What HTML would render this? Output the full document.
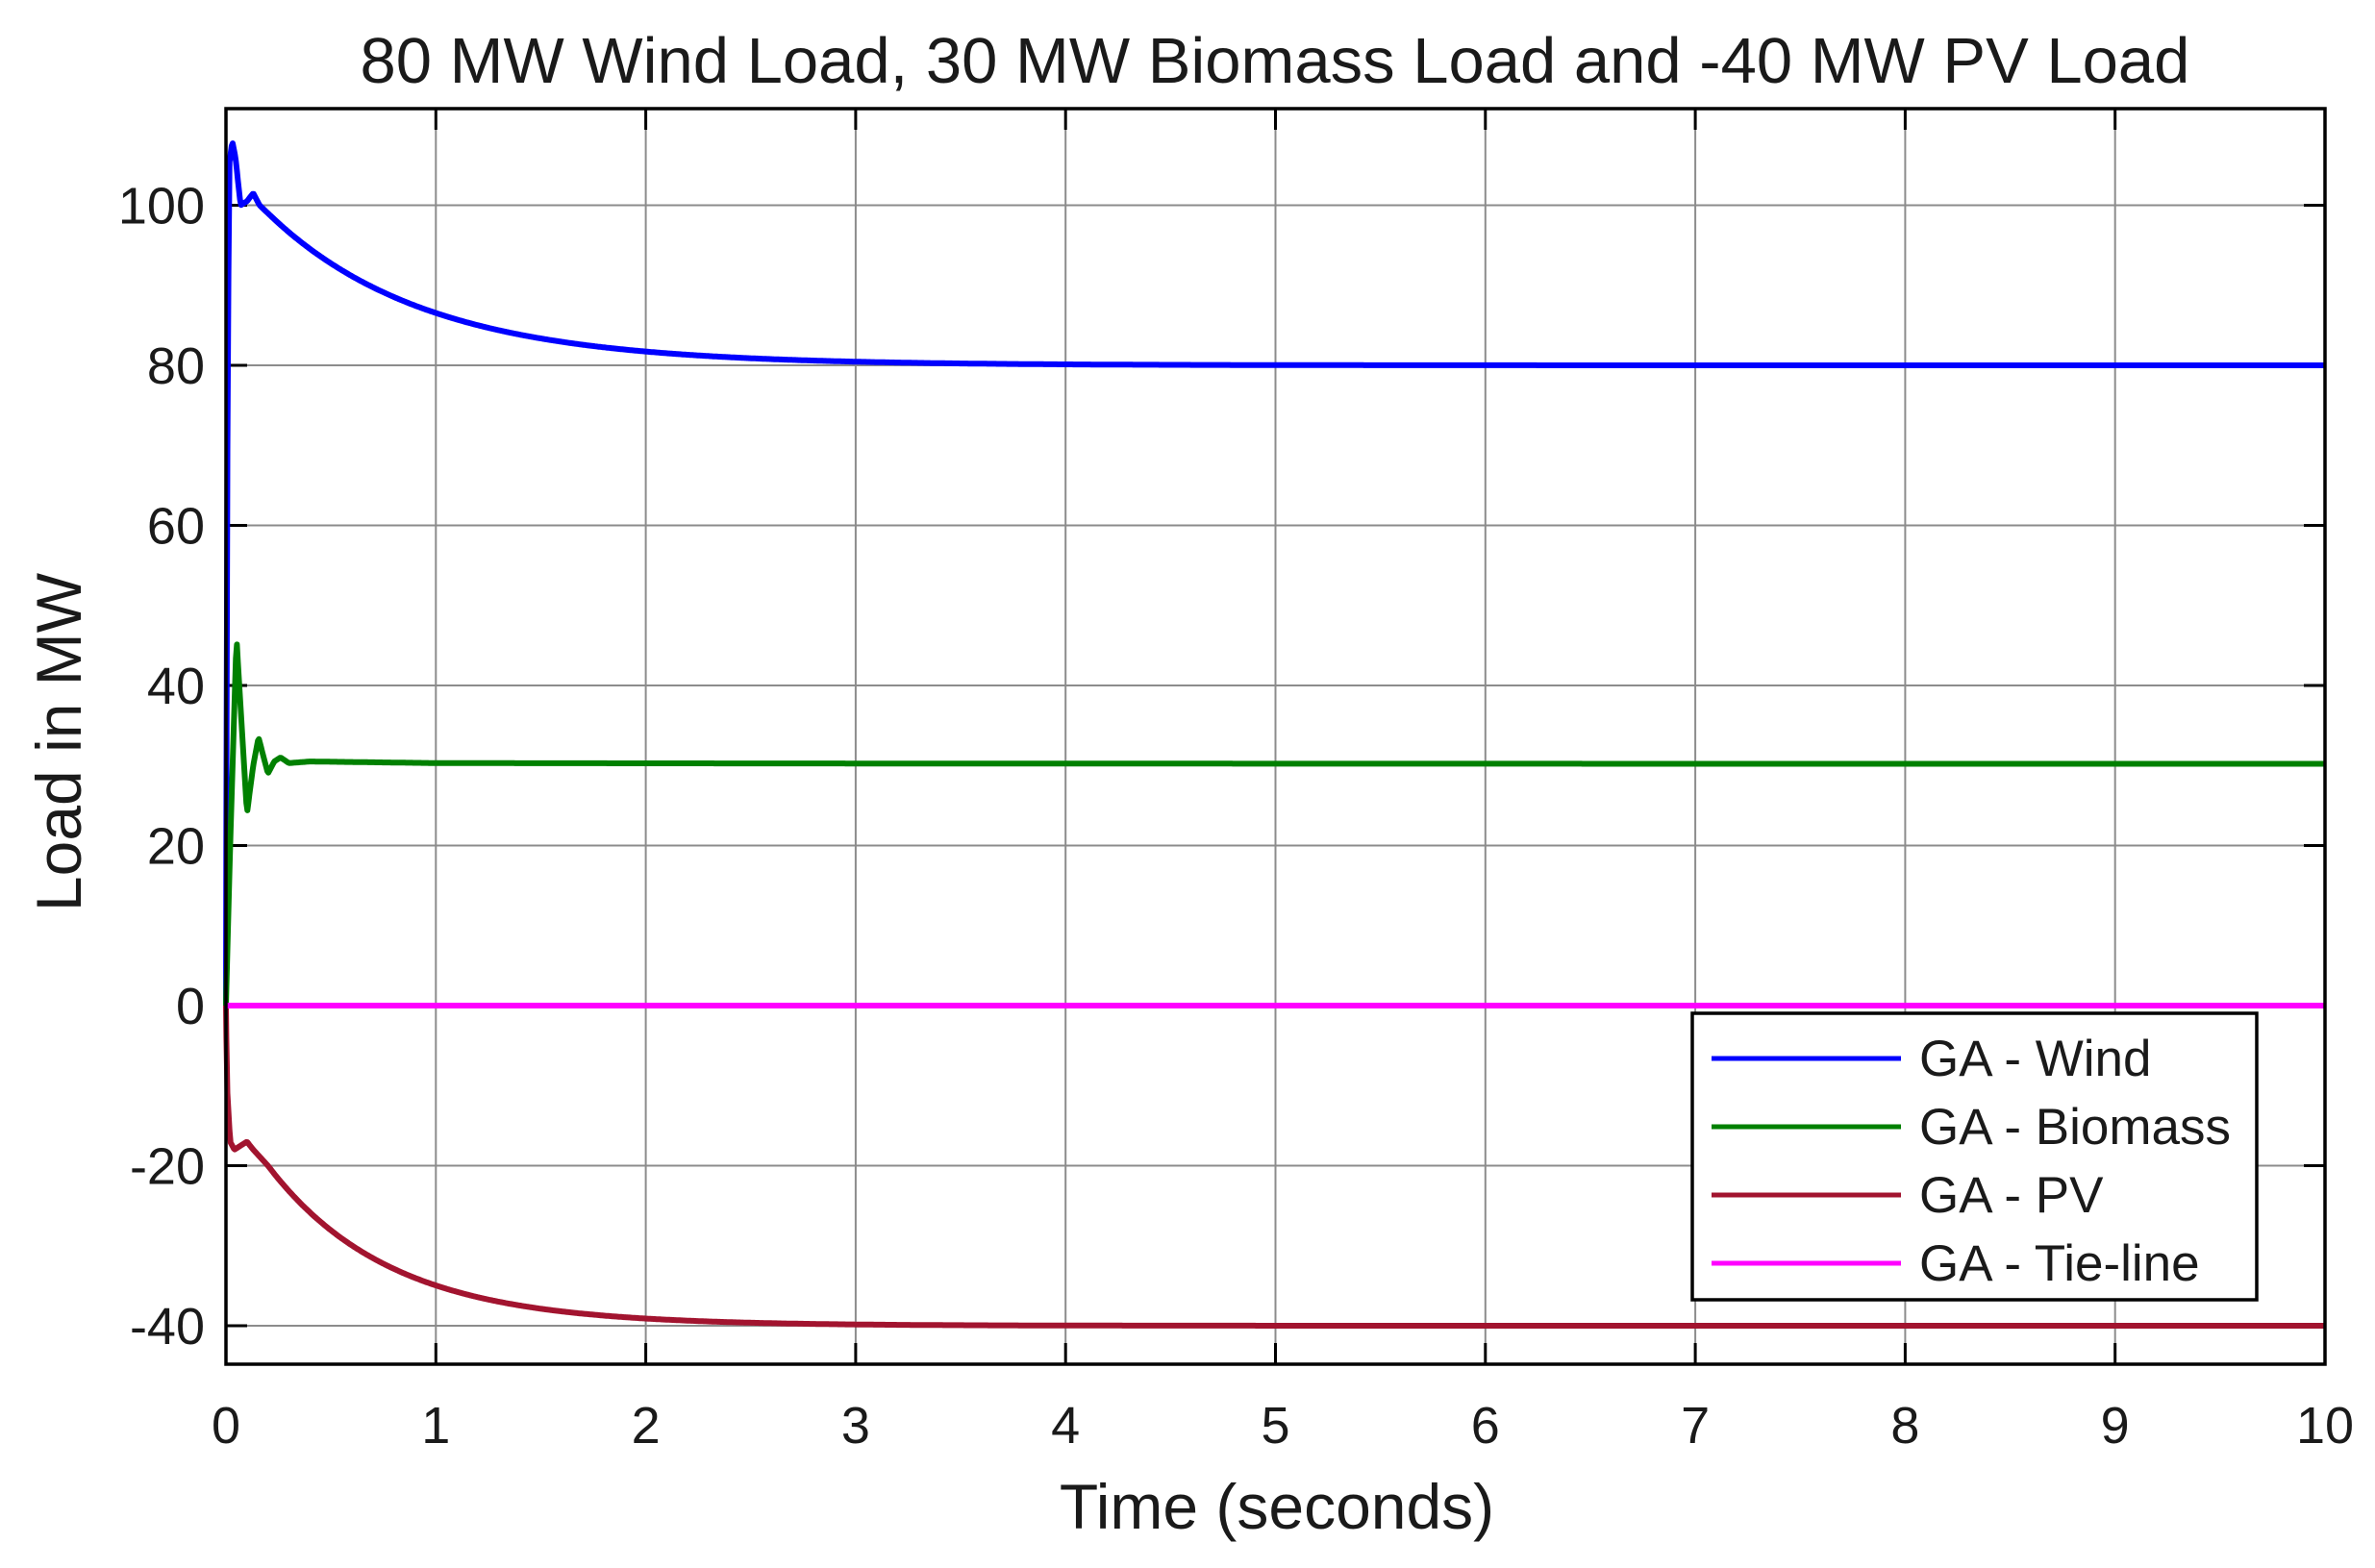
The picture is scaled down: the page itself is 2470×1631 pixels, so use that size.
<!DOCTYPE html>
<html><head><meta charset="utf-8"><style>
html,body{margin:0;padding:0;background:#fff;}
svg{display:block;font-family:"Liberation Sans",Arial,sans-serif;}
</style></head><body>
<svg id="s" width="2470" height="1631" viewBox="0 0 2470 1631" xmlns="http://www.w3.org/2000/svg">
<rect width="2470" height="1631" fill="#fff"/>
<g id="grid" stroke="#8c8c8c" stroke-width="2"></g>
<g id="ticks" stroke="#000" stroke-width="3"></g>
<g id="series" fill="none" stroke-width="6" stroke-linejoin="round"></g>
<rect x="235" y="113" width="2183" height="1306" fill="none" stroke="#000" stroke-width="3.5"/>
<g id="labels" font-size="54" fill="#1a1a1a"></g>
<text x="1326" y="86" font-size="67" text-anchor="middle" fill="#1a1a1a">80 MW Wind Load, 30 MW Biomass Load and -40 MW PV Load</text>
<text x="1328" y="1590" font-size="66" text-anchor="middle" fill="#1a1a1a">Time (seconds)</text>
<text transform="translate(84,772) rotate(-90)" font-size="66" text-anchor="middle" fill="#1a1a1a">Load in MW</text>
<rect x="1760" y="1054" width="587" height="298" fill="#fff" stroke="#000" stroke-width="3.5"/>
<g stroke-width="5">
<line x1="1780" y1="1101" x2="1977" y2="1101" stroke="#0000ff"/>
<line x1="1780" y1="1172" x2="1977" y2="1172" stroke="#008000"/>
<line x1="1780" y1="1243" x2="1977" y2="1243" stroke="#a2142f"/>
<line x1="1780" y1="1314" x2="1977" y2="1314" stroke="#ff00ff"/>
</g>
<g font-size="53" fill="#1a1a1a">
<text x="1996" y="1119">GA - Wind</text>
<text x="1996" y="1190">GA - Biomass</text>
<text x="1996" y="1261">GA - PV</text>
<text x="1996" y="1332">GA - Tie-line</text>
</g>
</svg>
<script>
var NS="http://www.w3.org/2000/svg";
var L=235,R=2418,T=113,B=1419,Y0=1046,SY=8.325,SX=218.3;
function X(t){return L+t*SX;} function Y(v){return Y0-v*SY;}
function el(p,n,a){var e=document.createElementNS(NS,n);for(var k in a)e.setAttribute(k,a[k]);p.appendChild(e);return e;}
var g=document.getElementById('grid'),tk=document.getElementById('ticks'),lb=document.getElementById('labels');
for(var i=1;i<10;i++){el(g,'line',{x1:X(i),x2:X(i),y1:T,y2:B});}
for(var v=-40;v<=100;v+=20){el(g,'line',{x1:L,x2:R,y1:Y(v),y2:Y(v)});
 el(tk,'line',{x1:L,x2:L+22,y1:Y(v),y2:Y(v)});el(tk,'line',{x1:R-22,x2:R,y1:Y(v),y2:Y(v)});
 var t=el(lb,'text',{x:L-22,y:Y(v)+19,'text-anchor':'end'});t.textContent=v;}
for(var i=0;i<=10;i++){el(tk,'line',{x1:X(i),x2:X(i),y1:T,y2:T+22});el(tk,'line',{x1:X(i),x2:X(i),y1:B-22,y2:B});
 var t=el(lb,'text',{x:X(i),y:B+82,'text-anchor':'middle'});t.textContent=i;}
function interp(pts,t){for(var i=0;i<pts.length-1;i++){if(t<=pts[i+1][0]){var a=pts[i],b=pts[i+1];return a[1]+(b[1]-a[1])*(t-a[0])/(b[0]-a[0]);}}return pts[pts.length-1][1];}
function make(early,tEnd,vEnd,fin,tau,color){
 var d='M'+X(0)+','+Y(0);
 for(var t=0.002;t<=10.0001;t+=0.005){var v;
  if(t<=tEnd)v=interp(early,t);else v=fin+(vEnd-fin)*Math.exp(-(t-tEnd)/tau);
  d+='L'+X(t).toFixed(1)+','+Y(v).toFixed(1);}
 el(document.getElementById('series'),'path',{d:d,stroke:color});}
make([[0,0],[0.005,60],[0.015,105],[0.03,108],[0.045,106],[0.07,100],[0.1,100.5],[0.13,101.5],[0.16,100],[0.2,99]],0.2,99,80,0.75,'#0000ff');
make([[0,0],[0.02,20],[0.05,46],[0.075,35],[0.1,24],[0.13,30],[0.155,33.5],[0.18,31],[0.2,29],[0.23,30.5],[0.26,31],[0.3,30.3],[0.4,30.5],[1,30.3]],1,30.3,30.2,3,'#008000');
make([[0,0],[0.005,-10],[0.02,-17],[0.04,-18],[0.07,-17.5],[0.1,-17],[0.13,-18],[0.2,-20]],0.2,-20,-40,0.58,'#a2142f');
el(document.getElementById('series'),'path',{d:'M'+X(0)+','+Y(0)+'L'+X(10)+','+Y(0),stroke:'#ff00ff'});
</script>
</body></html>
